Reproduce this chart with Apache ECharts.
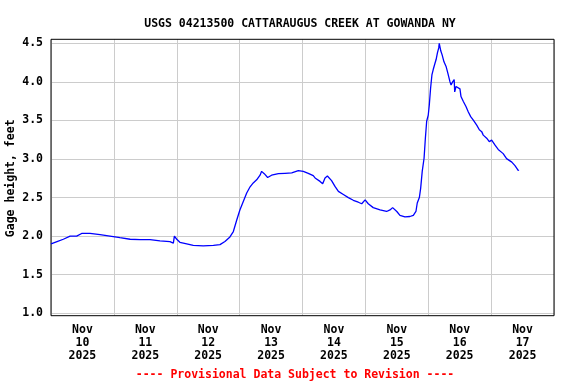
<!DOCTYPE html>
<html>
<head>
<meta charset="utf-8">
<script src="https://cdn.jsdelivr.net/npm/echarts@6/dist/echarts.min.js"></script>
<style>html,body{margin:0;padding:0;background:#fff}#c{width:576px;height:384px}</style>
</head>
<body>
<div id="c"></div>
<script>
// Hours since 2025-11-10 00:00
var hours = [0.0,2.3,4.7,7.3,9.8,11.7,14.9,18.7,22.5,26.3,30.2,34.0,37.8,41.6,45.4,46.7,47.1,48.0,49.2,51.8,54.3,58.1,62.0,64.5,66.4,68.3,69.6,70.9,72.1,73.4,74.7,76.0,77.2,78.5,79.8,80.4,81.4,82.7,84.2,86.8,89.3,91.9,94.4,96.3,98.2,100.1,100.8,102.7,103.7,104.6,105.5,107.1,108.4,109.7,111.6,113.5,115.4,117.3,118.6,119.9,121.1,123.0,125.6,128.1,129.4,130.4,132.0,133.2,135.1,137.0,138.3,139.3,139.8,140.6,141.1,141.7,142.4,142.9,143.4,144.0,144.4,144.9,145.4,145.9,146.6,147.0,147.5,148.0,148.2,148.8,149.3,150.0,150.8,151.5,152.3,152.7,153.3,153.9,154.1,154.6,156.1,156.5,157.4,158.4,159.3,160.2,161.2,162.5,163.5,164.4,165.0,166.3,167.3,168.2,169.5,170.7,171.4,172.6,173.9,175.9,177.1,178.4,178.5];
var gageHeight = [1.90,1.93,1.96,2.00,2.00,2.035,2.035,2.02,2.00,1.98,1.96,1.955,1.955,1.94,1.93,1.91,2.00,1.96,1.92,1.90,1.88,1.875,1.88,1.89,1.93,1.99,2.06,2.21,2.34,2.45,2.56,2.64,2.69,2.73,2.79,2.84,2.81,2.76,2.79,2.81,2.815,2.82,2.85,2.84,2.815,2.785,2.755,2.71,2.68,2.755,2.78,2.72,2.645,2.58,2.54,2.50,2.465,2.44,2.42,2.47,2.42,2.37,2.34,2.32,2.34,2.37,2.32,2.27,2.25,2.255,2.27,2.32,2.43,2.50,2.62,2.84,3.01,3.27,3.49,3.57,3.70,3.92,4.09,4.16,4.245,4.29,4.375,4.44,4.50,4.40,4.35,4.26,4.20,4.11,4.00,3.96,4.00,4.03,3.87,3.94,3.91,3.81,3.745,3.68,3.61,3.55,3.505,3.44,3.38,3.355,3.31,3.27,3.225,3.245,3.18,3.125,3.115,3.07,3.005,2.96,2.915,2.85,2.86];
var xTickValues = [12,36,60,84,108,132,156,180];
var xTickLabels = ['Nov\n10\n2025','Nov\n11\n2025','Nov\n12\n2025','Nov\n13\n2025','Nov\n14\n2025','Nov\n15\n2025','Nov\n16\n2025','Nov\n17\n2025'];
var yTickValues = [1.0,1.5,2.0,2.5,3.0,3.5,4.0,4.5];

var FONT = 'DejaVu Sans Mono';
var data = hours.map(function(h,i){return [h, gageHeight[i]];});
var chart = echarts.init(document.getElementById('c'), null, {renderer:'canvas'});
chart.setOption({
  animation:false,
  backgroundColor:'#fff',
  title:{text:'USGS 04213500 CATTARAUGUS CREEK AT GOWANDA NY', left:295, top:13, textAlign:'center',
    textStyle:{fontFamily:FONT, fontWeight:'bold', fontSize:11.5, color:'#000'}},
  grid:[
    {left:51, right:22, top:39.3, bottom:68.3, show:true, borderColor:'#000', borderWidth:1, backgroundColor:'transparent', z:3, outerBoundsMode:'none'},
    {left:51, right:22, top:43.3, bottom:70.7, show:false, outerBoundsMode:'none'}
  ],
  xAxis:[
    {gridIndex:0, type:'value', min:0, max:192, interval:24,
      axisLine:{show:false}, axisTick:{show:false},
      splitLine:{show:true, lineStyle:{color:'#cccccc', width:1}},
      axisLabel:{show:true, customValues:xTickValues, margin:8, lineHeight:13,
        fontFamily:FONT, fontWeight:'bold', fontSize:11.5, color:'#000',
        formatter:function(v){var i=xTickValues.indexOf(v);return i>=0?xTickLabels[i]:'';}}},
    {gridIndex:1, type:'value', min:0, max:192, show:false}
  ],
  yAxis:[
    {gridIndex:0, type:'value', min:0.969, max:4.552, show:false, splitLine:{show:false}},
    {gridIndex:1, type:'value', min:1, max:4.5, interval:0.5,
      name:'Gage height, feet', nameLocation:'middle', nameGap:34, nameRotate:90, nameMoveOverlap:false,
      nameTextStyle:{fontFamily:FONT, fontWeight:'bold', fontSize:11.5, color:'#000'},
      axisLine:{show:false}, axisTick:{show:false},
      splitLine:{show:true, lineStyle:{color:'#cccccc', width:1}},
      axisLabel:{margin:8, fontFamily:FONT, fontWeight:'bold', fontSize:11.5, color:'#000',
        formatter:function(v){return v.toFixed(1);}}}
  ],
  series:[{type:'line', xAxisIndex:0, yAxisIndex:0, data:data, showSymbol:false, symbol:'none',
    lineStyle:{color:'#0000ff', width:1.3}, z:5}],
  graphic:[{type:'text', position:[0,369],
    style:{text:'---- Provisional Data Subject to Revision ----', x:295, fill:'#ff0000',
      font:'bold 11.5px "DejaVu Sans Mono"', textAlign:'center'}}]
});
</script>
</body>
</html>
